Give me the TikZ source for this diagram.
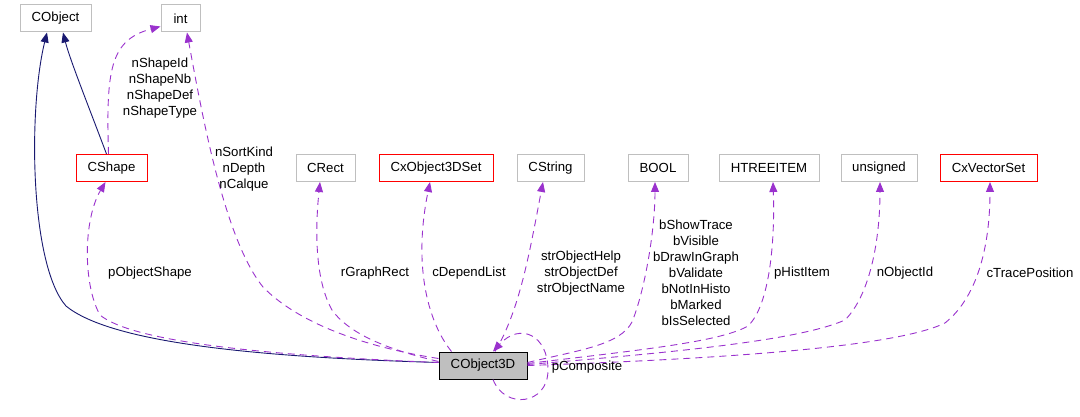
\documentclass[tikz,border=0pt]{standalone}
\usepackage{fontspec}
\setmainfont{Liberation Sans}
\usetikzlibrary{arrows.meta,calc}
\definecolor{edgepurple}{HTML}{9A32CD}
\definecolor{edgenavy}{HTML}{191970}
\definecolor{boxgray}{HTML}{BFBFBF}
\tikzset{
  box/.style={draw=boxgray, line width=1pt, minimum height=27pt, inner sep=0pt, font=\fontsize{13.2}{16}\selectfont},
  redbox/.style={box, draw=red},
  mainbox/.style={box, draw=black, fill=boxgray},
  dep/.style={draw=edgepurple, line width=0.9pt, dash pattern=on 7pt off 5pt, -{Triangle[length=10pt,width=8pt,fill=edgepurple]}},
  inh/.style={draw=edgenavy, line width=0.9pt, -{Triangle[length=10pt,width=8pt,fill=edgenavy]}},
  lbl/.style={font=\fontsize{13.2}{16}\selectfont, align=center, inner sep=0pt},
}
\begin{document}
\begin{tikzpicture}[x=1pt,y=-1pt]
\useasboundingbox (0,0) rectangle (1080,417);
% nodes
\node[box, minimum width=71pt] (cobject) at (55.5,18.5) {CObject};
\node[box, minimum width=39pt] (int) at (180.5,18.5) {int};
\node[redbox, minimum width=71pt] (cshape) at (111.5,168) {CShape};
\node[box, minimum width=59pt] (crect) at (325.5,168) {CRect};
\node[redbox, minimum width=114pt] (cxset) at (436,168) {CxObject3DSet};
\node[box, minimum width=67pt] (cstring) at (550.5,168) {CString};
\node[box, minimum width=60pt] (bool) at (658,168) {BOOL};
\node[box, minimum width=100pt] (htree) at (769,168) {HTREEITEM};
\node[box, minimum width=76pt] (unsig) at (879,168) {unsigned};
\node[redbox, minimum width=97pt] (cxvec) at (988.5,168) {CxVectorSet};
\node[mainbox, minimum width=88pt] (obj3d) at (483,365.5) {CObject3D};

% inheritance
\draw[inh] ($(obj3d.west)+(0,-3)$) .. controls (250,357) and (110,342) .. (66,306)
  .. controls (30,265) and (28,110) .. ($(cobject.south)+(-8.5,0)$);
\draw[inh] ($(cshape.north)+(-5,0)$) .. controls (90,110) and (70,60) .. ($(cobject.south)+(7.5,0)$);

% usage
\draw[dep] ($(cshape.north)+(-3,0)$) .. controls (106,70) and (110,40) .. ($(int.west)+(0,8)$);
\draw[dep] ($(obj3d.west)+(0,-7)$) .. controls (370,348) and (300,325) .. (263,287)
  .. controls (225,240) and (203,120) .. ($(int.south)+(6.5,0)$);
\draw[dep] ($(obj3d.west)+(0,-3)$) .. controls (250,355) and (130,340) .. (100,315)
  .. controls (83,285) and (83,220) .. ($(cshape.south)+(-6,0)$);
\draw[dep] ($(obj3d.west)+(0,-4)$) .. controls (390,350) and (350,335) .. (332,310)
  .. controls (315,280) and (315,230) .. ($(crect.south)+(-5.5,0)$);
\draw[dep] ($(obj3d.north west)+(13,0)$) .. controls (430,325) and (412,270) .. ($(cxset.south)+(-6,0)$);
\draw[dep] ($(obj3d.north)+(12,0)$) .. controls (520,310) and (530,250) .. ($(cstring.south)+(-7.5,0)$);
\draw[dep] ($(obj3d.south)+(10,0)$) .. controls (505,410) and (548,405) .. (548,370)
  .. controls (548,335) and (520,322) .. ($(obj3d.north)+(10,0)$);
\draw[dep] ($(obj3d.east)+(0,-3)$) .. controls (580,350) and (620,345) .. (632,322)
  .. controls (645,290) and (655,230) .. ($(bool.south)+(-3,0)$);
\draw[dep] ($(obj3d.east)+(0,-2)$) .. controls (640,350) and (720,342) .. (748,326)
  .. controls (770,305) and (775,240) .. ($(htree.south)+(4,0)$);
\draw[dep] ($(obj3d.east)+(0,-1)$) .. controls (680,352) and (800,340) .. (845,320)
  .. controls (870,295) and (880,240) .. ($(unsig.south)+(1,0)$);
\draw[dep] ($(obj3d.east)+(0,0)$) .. controls (750,358) and (900,345) .. (945,323)
  .. controls (980,295) and (990,240) .. ($(cxvec.south)+(1.5,0)$);

% labels
\node[lbl] (l1) at (160,88) {nShapeId\\nShapeNb\\nShapeDef\\nShapeType};
\node[lbl] (l2) at (244,169) {nSortKind\\nDepth\\nCalque};
\node[lbl] (l3) at (150,273) {pObjectShape};
\node[lbl] (l4) at (375,273) {rGraphRect};
\node[lbl] (l5) at (469,273) {cDependList};
\node[lbl] (l6) at (581,273) {strObjectHelp\\strObjectDef\\strObjectName};
\node[lbl] (l7) at (696,273) {bShowTrace\\bVisible\\bDrawInGraph\\bValidate\\bNotInHisto\\bMarked\\bIsSelected};
\node[lbl] (l8) at (802,273) {pHistItem};
\node[lbl] (l9) at (905,273) {nObjectId};
\node[lbl] (l10) at (1030,273) {cTracePosition};
\node[lbl] (l11) at (587,367) {pComposite};
\end{tikzpicture}
\end{document}
